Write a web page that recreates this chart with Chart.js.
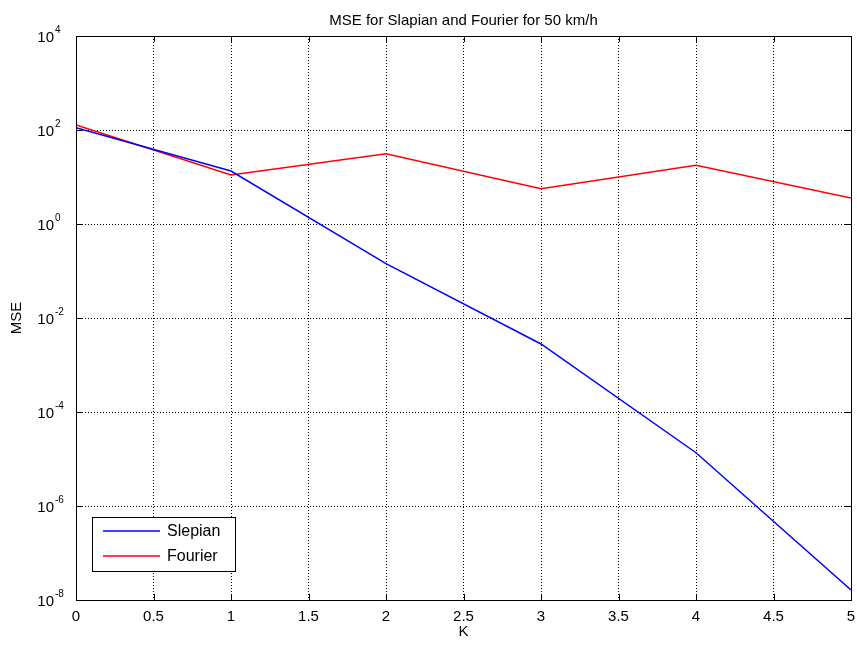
<!DOCTYPE html>
<html>
<head>
<meta charset="utf-8">
<script src="https://cdn.jsdelivr.net/npm/chart.js@4/dist/chart.umd.min.js"></script>
<style>
  body { margin: 0; background: #fff; }
  #wrap { width: 857px; height: 646px; }
</style>
</head>
<body>
<div id="wrap"><canvas id="mse-chart" width="857" height="646"></canvas></div>
<script>
// values
const kValues = [0, 1, 2, 3, 4, 5];
const slepianMse = [112, 13.4, 0.143, 0.0028, 1.36e-5, 1.63e-8];
const fourierMse = [128, 11, 31.3, 5.6, 17.7, 3.57];
const yTickExponents = [-8, -6, -4, -2, 0, 2, 4];

const FONT = 'Liberation Sans, Arial, sans-serif';

function toPoints(ys) {
    return kValues.map((k, i) => ({ x: k, y: ys[i] }));
}

// axes box, inner tick marks, y labels with superscripts, legend box
const matlabLook = {
    id: 'matlabLook',
    afterDraw(chart) {
        const { ctx, chartArea: a, scales } = chart;
        ctx.save();
        ctx.strokeStyle = '#000';
        ctx.lineWidth = 1;
        ctx.setLineDash([]);

        ctx.beginPath();
        scales.x.ticks.forEach(t => {
            const px = Math.round(scales.x.getPixelForValue(t.value)) + 0.5;
            ctx.moveTo(px, a.bottom); ctx.lineTo(px, a.bottom - 6);
            ctx.moveTo(px, a.top); ctx.lineTo(px, a.top + 6);
        });
        scales.y.ticks.forEach(t => {
            const py = Math.round(scales.y.getPixelForValue(t.value)) + 0.5;
            ctx.moveTo(a.left, py); ctx.lineTo(a.left + 6, py);
            ctx.moveTo(a.right, py); ctx.lineTo(a.right - 6, py);
        });
        ctx.stroke();
        ctx.strokeRect(Math.round(a.left) + 0.5, Math.round(a.top) + 0.5,
            Math.round(a.right - a.left), Math.round(a.bottom - a.top));

        ctx.fillStyle = '#000';
        ctx.textBaseline = 'middle';
        yTickExponents.forEach(e => {
            const py = scales.y.getPixelForValue(Math.pow(10, e));
            ctx.font = '15px ' + FONT;
            ctx.textAlign = 'right';
            ctx.fillText('10', 54, py + 1.5);
            ctx.font = '10px ' + FONT;
            ctx.textAlign = 'left';
            ctx.fillText(String(e), 55, py - 5.5);
        });

        // legend in the lower left corner
        const lx = 92, ly = 517, lw = 143, lh = 54;
        ctx.fillStyle = '#fff';
        ctx.fillRect(lx, ly, lw, lh);
        ctx.strokeRect(lx + 0.5, ly + 0.5, lw, lh);
        chart.data.datasets.forEach((ds, i) => {
            const y = ly + 14 + i * 25;
            ctx.strokeStyle = ds.borderColor;
            ctx.lineWidth = 1.5;
            ctx.beginPath();
            ctx.moveTo(103, y); ctx.lineTo(160, y);
            ctx.stroke();
            ctx.fillStyle = '#000';
            ctx.font = '16px ' + FONT;
            ctx.textAlign = 'left';
            ctx.fillText(ds.label, 167, y + 1);
        });
        ctx.restore();
    }
};

const chart = new Chart(document.getElementById('mse-chart'), {
    type: 'line',
    data: {
        datasets: [
            { label: 'Slepian', data: toPoints(slepianMse), borderColor: '#0000ff', borderWidth: 1.5, pointRadius: 0, tension: 0 },
            { label: 'Fourier', data: toPoints(fourierMse), borderColor: '#ff0000', borderWidth: 1.5, pointRadius: 0, tension: 0 }
        ]
    },
    options: {
        responsive: false,
        animation: false,
        layout: { padding: { top: 0, right: 6, bottom: 0, left: 0 } },
        plugins: {
            legend: { display: false },
            tooltip: { enabled: false },
            title: {
                display: true,
                text: 'MSE for Slapian and Fourier for 50 km/h',
                color: '#000',
                fullSize: false,
                font: { family: FONT, size: 15, weight: 'normal' },
                padding: { top: 12, bottom: 6 }
            }
        },
        scales: {
            x: {
                type: 'linear',
                min: 0,
                max: 5,
                ticks: {
                    stepSize: 0.5, color: '#000', padding: 8, font: { family: FONT, size: 15 },
                    callback: v => String(Math.round(v * 10) / 10)
                },
                grid: { color: '#000', lineWidth: 1, drawTicks: false },
                border: { display: false, dash: [1, 2] },
                title: { display: true, text: 'K', color: '#000', font: { family: FONT, size: 15 }, padding: { top: 0, bottom: 5 } },
                afterFit(s) { s.height = 46; s.paddingLeft = 0; s.paddingRight = 0; }
            },
            y: {
                type: 'logarithmic',
                min: 1e-8,
                max: 1e4,
                afterBuildTicks(s) {
                    s.ticks = yTickExponents.map(e => ({ value: Math.pow(10, e) }));
                },
                ticks: { display: false },
                grid: { color: '#000', lineWidth: 1, drawTicks: false },
                border: { display: false, dash: [1, 2] },
                title: { display: true, text: 'MSE', color: '#000', font: { family: FONT, size: 15 }, padding: { top: 8, bottom: 0 } },
                afterFit(s) { s.width = 76; s.paddingTop = 0; s.paddingBottom = 0; }
            }
        }
    },
    plugins: [matlabLook]
});
</script>
</body>
</html>
